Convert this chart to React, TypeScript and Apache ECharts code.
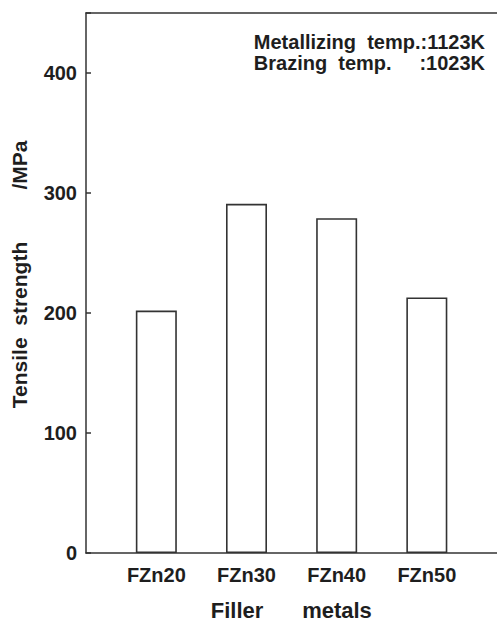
import React, { useEffect, useRef } from "react";
import * as echarts from "echarts";

const categories = ["FZn20", "FZn30", "FZn40", "FZn50"];
const positions = [1, 2, 3, 4];
const tensileStrength = [202, 291, 279, 213];
const yTicks = [0, 100, 200, 300, 400];
const noteLines = ["Metallizing  temp.:1123K", "Brazing  temp.     :1023K"];

const FONT = "'Liberation Sans', Arial, Helvetica, sans-serif";
const INK = "#1e1e1e";
const LINE = "#333";

export default function App() {
  const ref = useRef<HTMLDivElement>(null);
  useEffect(() => {
    if (!ref.current) return;
    const chart = echarts.init(ref.current, null, { renderer: "svg" });
    chart.setOption({
      animation: false,
      backgroundColor: "#fff",
      grid: {
        left: 86,
        top: 13,
        right: -20,
        bottom: 72,
        show: false,
        containLabel: false,
        outerBoundsMode: "none",
      },
      xAxis: [
        {
          type: "value",
          position: "bottom",
          min: 0.22,
          max: 5,
          splitLine: { show: false },
          axisLine: { show: true, lineStyle: { color: LINE, width: 1.5 } },
          axisTick: { show: false },
          axisLabel: {
            customValues: positions,
            formatter: (v: number) => categories[Math.round(v) - 1] ?? "",
            margin: 12,
            fontFamily: FONT,
            fontWeight: "bold",
            fontSize: 20,
            color: INK,
          },
        },
        {
          type: "value",
          position: "top",
          min: 0.22,
          max: 5,
          splitLine: { show: false },
          axisLine: { show: true, onZero: false, lineStyle: { color: LINE, width: 1.5 } },
          axisTick: { show: false },
          axisLabel: { show: false },
        },
      ],
      yAxis: {
        type: "value",
        min: 0,
        max: 450,
        interval: 100,
        splitLine: { show: false },
        axisLine: { show: true, lineStyle: { color: LINE, width: 1.5 } },
        axisTick: { show: true, inside: true, length: 5, lineStyle: { color: LINE, width: 1.5 } },
        axisLabel: {
          customValues: yTicks,
          margin: 9,
          fontFamily: FONT,
          fontWeight: "bold",
          fontSize: 20,
          color: INK,
        },
      },
      series: [
        {
          type: "bar",
          xAxisIndex: 0,
          data: positions.map((p, i) => [p, tensileStrength[i]]),
          barWidth: 41,
          itemStyle: { color: "#fff", borderColor: LINE, borderWidth: 1.6 },
        },
      ],
      graphic: [
        {
          type: "text",
          right: 12,
          top: 31,
          style: {
            text: noteLines.join("\n"),
            fontFamily: FONT,
            fontWeight: "bold",
            fontSize: 20,
            lineHeight: 21,
            align: "right",
            fill: INK,
          },
        },
        {
          type: "text",
          x: 19,
          y: 325,
          rotation: Math.PI / 2,
          style: {
            text: "Tensile  strength",
            fontFamily: FONT,
            fontWeight: "bold",
            fontSize: 21,
            align: "center",
            verticalAlign: "middle",
            fill: INK,
          },
        },
        {
          type: "text",
          x: 19,
          y: 165,
          rotation: Math.PI / 2,
          style: {
            text: "/MPa",
            fontFamily: FONT,
            fontWeight: "bold",
            fontSize: 21,
            align: "center",
            verticalAlign: "middle",
            fill: INK,
          },
        },
        {
          type: "text",
          x: 237,
          y: 610,
          style: {
            text: "Filler",
            fontFamily: FONT,
            fontWeight: "bold",
            fontSize: 22,
            align: "center",
            verticalAlign: "middle",
            fill: INK,
          },
        },
        {
          type: "text",
          x: 337,
          y: 610,
          style: {
            text: "metals",
            fontFamily: FONT,
            fontWeight: "bold",
            fontSize: 22,
            align: "center",
            verticalAlign: "middle",
            fill: INK,
          },
        },
      ],
    });
    return () => chart.dispose();
  }, []);
  return <div ref={ref} style={{ width: 497, height: 625, position: "absolute", left: 0, top: 0 }} />;
}
